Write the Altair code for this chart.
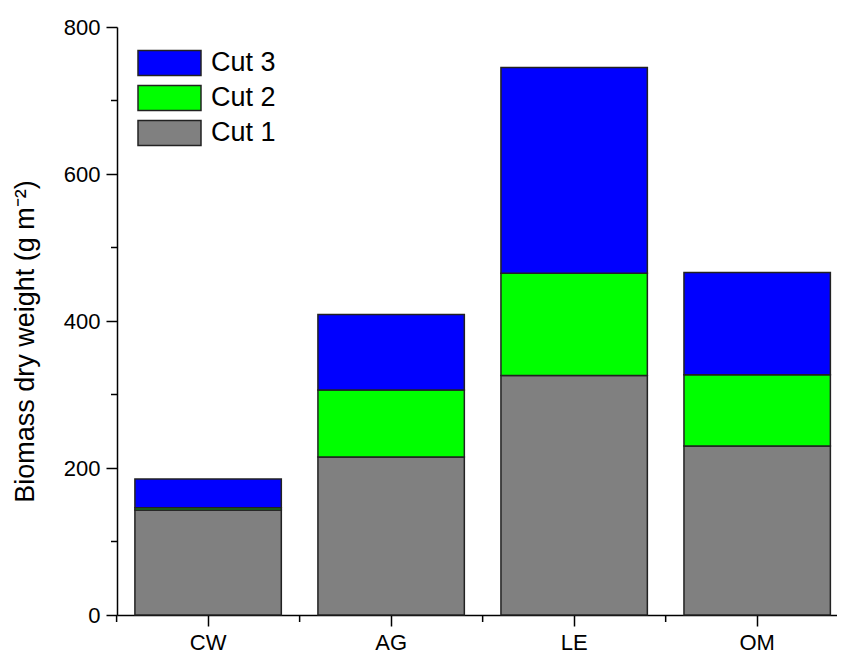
import altair as alt
import pandas as pd

categories = ["CW", "AG", "LE", "OM"]
cut1 = [143, 215, 326, 230]
cut2 = [3, 91, 139, 97]
cut3 = [39, 103, 280, 139]
series_names = ["Cut 1", "Cut 2", "Cut 3"]
series_colors = {"Cut 3": "#0000FF", "Cut 2": "#00FF00", "Cut 1": "#808080"}
y_ticks = [0, 200, 400, 600, 800]
y_minor = [100, 300, 500, 700]

rows = []
for i, c in enumerate(categories):
    for k, (name, vals) in enumerate(zip(series_names, [cut1, cut2, cut3])):
        rows.append({"cat": c, "series": name, "value": vals[i], "ord": k})
df = pd.DataFrame(rows)

FONT = "Liberation Sans"

xscale = alt.Scale(domain=categories, paddingInner=0.2, paddingOuter=0.067, align=0.73)
yscale = alt.Scale(domain=[0, 800], nice=False, zero=True)

x_axis = alt.Axis(title=None, labelAngle=0, labelFontSize=22, labelFont=FONT,
                  labelColor="black", tickSize=11, tickWidth=1.5, tickColor="black",
                  domainColor="black", domainWidth=1.5, labelPadding=6, grid=False)
y_axis = alt.Axis(values=y_ticks, title="Biomass dry weight (g m⁻²)", titleFontSize=27,
                  titleFont=FONT, titleFontWeight="normal", titleColor="black",
                  titleAngle=270, titleBaseline="alphabetic", titleAlign="center",
                  titleX=-84, titleY=314,
                  labelFontSize=22, labelFont=FONT, labelColor="black", labelPadding=6,
                  tickSize=11, tickWidth=1.5, tickColor="black",
                  domainColor="black", domainWidth=1.5, grid=False)

legend_order = ["Cut 3", "Cut 2", "Cut 1"]

bars = alt.Chart(df).mark_bar(stroke="#222222", strokeWidth=1.5).encode(
    x=alt.X("cat:N", scale=xscale, sort=categories, axis=x_axis),
    y=alt.Y("value:Q", stack="zero", scale=yscale, axis=y_axis),
    color=alt.Color("series:N",
                    scale=alt.Scale(domain=legend_order, range=[series_colors[s] for s in legend_order]),
                    legend=alt.Legend(orient="none", legendX=20, legendY=22, title=None,
                                      symbolType="M-1,-0.4H1V0.4H-1Z", symbolSize=3969,
                                      symbolStrokeColor="#222222", symbolStrokeWidth=1.5,
                                      symbolOpacity=1, labelFontSize=27, labelFont=FONT,
                                      labelColor="black", clipHeight=28, rowPadding=7,
                                      labelOffset=9, padding=0)),
    order=alt.Order("ord:Q", sort="ascending"),
)

ymin_df = pd.DataFrame({"value": y_minor})
yminor = alt.Chart(ymin_df).mark_rule(color="black", strokeWidth=1.5).encode(
    y=alt.Y("value:Q", scale=yscale, axis=y_axis),
    x=alt.value(-6),
    x2=alt.value(0),
)

xmin_df = pd.DataFrame({"cat": categories})
xminor = alt.Chart(xmin_df).mark_rule(color="black", strokeWidth=1.5, xOffset=-18.3).encode(
    x=alt.X("cat:N", scale=xscale, sort=categories, bandPosition=0, axis=x_axis),
    y=alt.value(588),
    y2=alt.value(595),
)

chart = alt.layer(bars, yminor, xminor).properties(
    width=720, height=588,
    autosize=alt.AutoSizeParams(type="none"),
    padding={"left": 109, "top": 19, "right": 0, "bottom": 40},
).configure(background="white").configure_view(stroke=None)

chart.save("out.html", embed_options={"renderer": "svg", "actions": False})
